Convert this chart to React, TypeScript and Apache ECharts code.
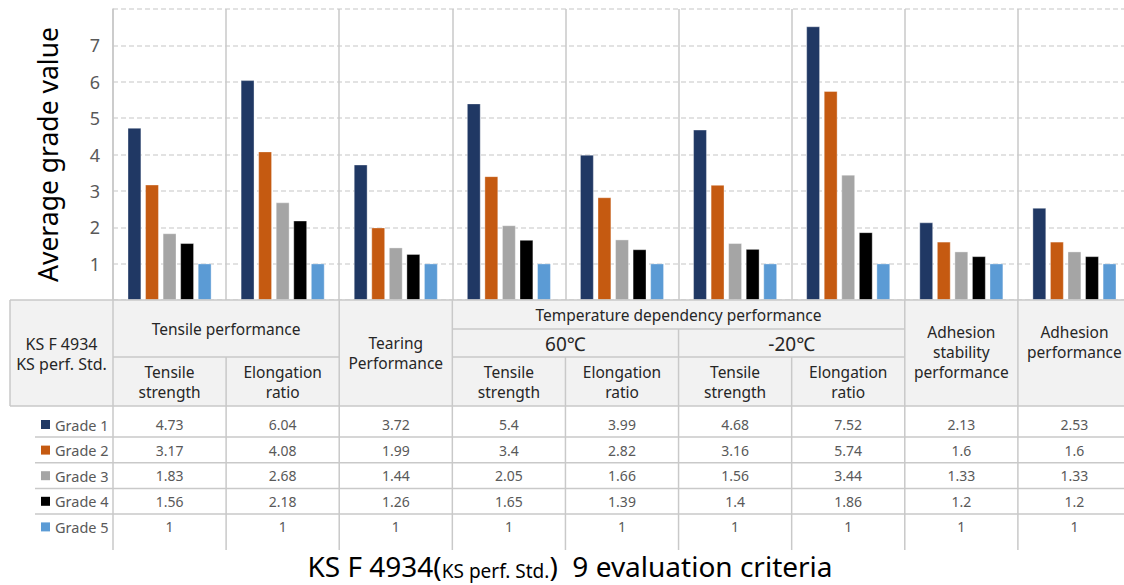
import React, { useEffect, useRef } from "react";
import * as echarts from "echarts";

const categories = [
  "Tensile strength",
  "Elongation ratio",
  "Tearing Performance",
  "60℃ Tensile strength",
  "60℃ Elongation ratio",
  "-20℃ Tensile strength",
  "-20℃ Elongation ratio",
  "Adhesion stability performance",
  "Adhesion performance",
];
const seriesNames = ["Grade 1", "Grade 2", "Grade 3", "Grade 4", "Grade 5"];
const grade1 = [4.73, 6.04, 3.72, 5.4, 3.99, 4.68, 7.52, 2.13, 2.53];
const grade2 = [3.17, 4.08, 1.99, 3.4, 2.82, 3.16, 5.74, 1.6, 1.6];
const grade3 = [1.83, 2.68, 1.44, 2.05, 1.66, 1.56, 3.44, 1.33, 1.33];
const grade4 = [1.56, 2.18, 1.26, 1.65, 1.39, 1.4, 1.86, 1.2, 1.2];
const grade5 = [1, 1, 1, 1, 1, 1, 1, 1, 1];
const gradeValues = [grade1, grade2, grade3, grade4, grade5];
const yTickLabels = ["1", "2", "3", "4", "5", "6", "7"];

const cornerHeader = "KS F 4934\nKS perf. Std.";
const topHeaders = [
  { text: "Tensile performance", from: 0, to: 1, full: false },
  { text: "Tearing\nPerformance", from: 2, to: 2, full: true },
  { text: "Temperature dependency performance", from: 3, to: 6, full: false },
  { text: "Adhesion\nstability\nperformance", from: 7, to: 7, full: true },
  { text: "Adhesion\nperformance", from: 8, to: 8, full: true },
];
const tempHeaders = [
  { text: "60℃", from: 3, to: 4 },
  { text: "-20℃", from: 5, to: 6 },
];
const subHeaders = [
  "Tensile\nstrength",
  "Elongation\nratio",
  "",
  "Tensile\nstrength",
  "Elongation\nratio",
  "Tensile\nstrength",
  "Elongation\nratio",
  "",
  "",
];
const yAxisTitle = "Average grade value";
const bottomTitleMain1 = "KS F 4934(";
const bottomTitleSmall = "KS perf. Std.";
const bottomTitleMain2 = ")  9 evaluation criteria";

const colors = ["#203864", "#C55A11", "#A5A5A5", "#000000", "#5B9BD5"];
const FONT = "'Noto Sans', 'Open Sans', sans-serif";
const LINE = "#C9C9C9";

export default function App() {
  const ref = useRef<HTMLDivElement>(null);
  useEffect(() => {
    document.body.style.margin = "0";
    const chart = echarts.init(ref.current!, null, { renderer: "svg" });
    const option: any = {
      animation: false,
      textStyle: { fontFamily: FONT },
      grid: { left: 113, right: 0, top: 9, bottom: 285, containLabel: false },
      xAxis: {
        type: "category",
        data: categories,
        axisLine: { show: false },
        axisTick: { show: false },
        axisLabel: { show: false },
        splitLine: { show: true, interval: 0, lineStyle: { color: LINE, width: 1.5 } },
      },
      yAxis: {
        type: "value",
        min: 0,
        max: 8,
        interval: 1,
        name: yAxisTitle,
        nameLocation: "middle",
        nameRotate: 90,
        nameGap: 52,
        nameTextStyle: { fontSize: 26.5, color: "#000", fontFamily: FONT },
        axisLine: { show: true, lineStyle: { color: LINE, width: 1.5 } },
        axisTick: { show: false },
        axisLabel: {
          fontSize: 18,
          color: "#595959",
          margin: 13,
          fontFamily: FONT,
          formatter: (v: number) => (yTickLabels.includes(String(v)) ? String(v) : ""),
        },
        splitLine: { show: true, lineStyle: { color: "#D9D9D9", width: 1.5, type: [5, 3] } },
      },
      series: gradeValues.map((d, i) => ({
        type: "bar",
        name: seriesNames[i],
        data: d,
        barGap: "30%",
        barCategoryGap: "26%",
        itemStyle: { color: colors[i], borderColor: "rgba(255,255,255,0.6)", borderWidth: 0.6 },
      })),
    };
    chart.setOption(option);

    const centers = categories.map((_, i) => chart.convertToPixel({ xAxisIndex: 0 }, i) as number);
    const cw = centers[1] - centers[0];
    const b = [...centers.map((c) => c - cw / 2), centers[centers.length - 1] + cw / 2];
    const y0 = chart.convertToPixel({ yAxisIndex: 0 }, 0) as number;
    const tableLeft = 10;
    const legendLeft = 35;
    const yTemp = y0 + 29;
    const yMid = y0 + 57;
    const yHead = y0 + 106;
    const yEnd = y0 + 250;
    const rowText = (k: number) => yHead + 18.5 + k * 25.6;
    const rowSep = (k: number) => yHead + 31 + k * 25.7;
    const right = b[b.length - 1];

    const els: any[] = [];
    const line = (x1: number, y1: number, x2: number, y2: number) =>
      els.push({ type: "line", z: 20, shape: { x1, y1, x2, y2 }, style: { stroke: LINE, lineWidth: 1.5 } });
    const txt = (x: number, y: number, text: string, fontSize: number, fill: string, align = "center") =>
      els.push({
        type: "text",
        z: 30,
        x,
        y,
        style: { text, fontSize, fill, fontFamily: FONT, align, verticalAlign: "middle", lineHeight: 20 },
      });

    // header background
    els.push({ type: "rect", z: 10, shape: { x: tableLeft, y: y0, width: right - tableLeft, height: yHead - y0 }, style: { fill: "#F2F2F2" } });

    // horizontal lines
    line(tableLeft, y0, right, y0);
    line(tableLeft, yHead, right, yHead);
    line(b[3], yTemp, b[7], yTemp);
    line(b[0], yMid, b[2], yMid);
    line(b[3], yMid, b[7], yMid);
    for (let k = 0; k < 4; k++) line(legendLeft, rowSep(k), right, rowSep(k));

    // vertical lines
    line(tableLeft, y0, tableLeft, yHead);
    const startY = (i: number) => {
      if (i === 1 || i === 4 || i === 6) return yMid;
      if (i === 5) return yTemp;
      return y0;
    };
    for (let i = 0; i < b.length - 1; i++) line(b[i], startY(i), b[i], yEnd);

    // header texts
    txt((tableLeft + b[0]) / 2, y0 + 54, cornerHeader, 16, "#262626");
    topHeaders.forEach((h) => {
      const cx = (b[h.from] + b[h.to + 1]) / 2;
      const nLines = h.text.split("\n").length;
      let cy: number;
      if (!h.full) cy = h.from === 3 ? (y0 + yTemp) / 2 : (y0 + yMid) / 2;
      else if (nLines === 3) cy = y0 + 52;
      else if (h.from === 2) cy = y0 + 52.7;
      else cy = y0 + 42;
      txt(cx, cy, h.text, 15.5, "#262626");
    });
    tempHeaders.forEach((h) => {
      txt((b[h.from] + b[h.to + 1]) / 2, (yTemp + yMid) / 2 + 1, h.text, 19, "#262626");
    });
    subHeaders.forEach((s, i) => {
      if (s) txt(centers[i], (yMid + yHead) / 2 + 0.5, s, 15.5, "#262626");
    });

    // data values
    gradeValues.forEach((vals, k) => {
      vals.forEach((v, i) => txt(centers[i], rowText(k), String(v), 14, "#595959"));
    });

    // legend keys inside the table
    seriesNames.forEach((name, k) => {
      els.push({
        type: "rect",
        z: 30,
        shape: { x: legendLeft + 6, y: rowText(k) - 4.5, width: 9, height: 9 },
        style: { fill: colors[k] },
      });
      txt(legendLeft + 20, rowText(k), name, 14.5, "#595959", "left");
    });

    // bottom title
    els.push({
      type: "text",
      z: 30,
      x: 570,
      y: 564,
      style: {
        text: `{a|${bottomTitleMain1}}{b|${bottomTitleSmall}}{a|${bottomTitleMain2}}`,
        align: "center",
        verticalAlign: "middle",
        rich: {
          a: { fontSize: 28, lineHeight: 32, fill: "#000", fontFamily: FONT, verticalAlign: "bottom" },
          b: { fontSize: 19, lineHeight: 26, fill: "#000", fontFamily: FONT, verticalAlign: "bottom" },
        },
      },
    });

    chart.setOption({ graphic: { elements: els } });

    return () => chart.dispose();
  }, []);
  return (
    <div style={{ width: 1124, height: 585, overflow: "hidden", position: "relative" }}>
      <div ref={ref} style={{ width: 1131, height: 585 }} />
    </div>
  );
}
